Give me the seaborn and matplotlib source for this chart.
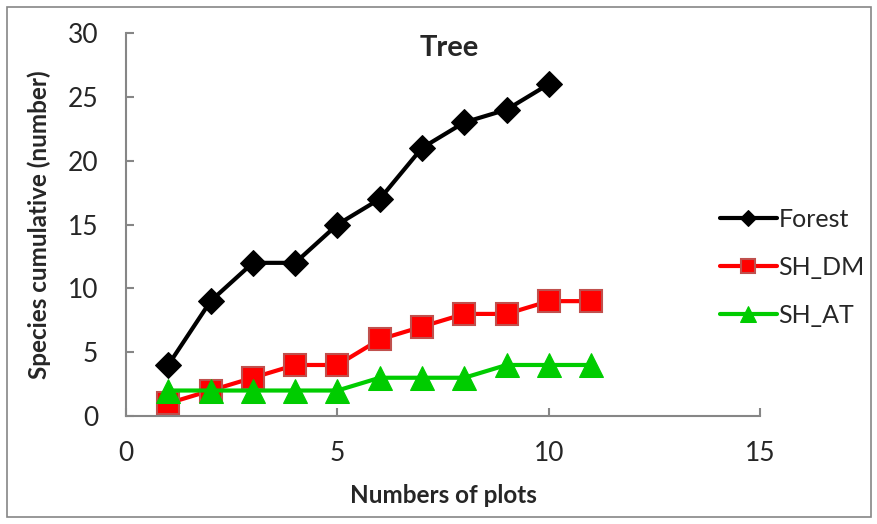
import matplotlib
matplotlib.use("Agg")
import matplotlib.pyplot as plt
import seaborn as sns
import pandas as pd
from matplotlib.patches import Rectangle

forest_x = [1, 2, 3, 4, 5, 6, 7, 8, 9, 10]
forest_y = [4, 9, 12, 12, 15, 17, 21, 23, 24, 26]
shdm_x = [1, 2, 3, 4, 5, 6, 7, 8, 9, 10, 11]
shdm_y = [1, 2, 3, 4, 4, 6, 7, 8, 8, 9, 9]
shat_x = [1, 2, 3, 4, 5, 6, 7, 8, 9, 10, 11]
shat_y = [2, 2, 2, 2, 2, 3, 3, 3, 4, 4, 4]
series_names = ["Forest", "SH_DM", "SH_AT"]

sns.set_style("white")
plt.rcParams['font.family'] = ['Lato', 'DejaVu Sans']

fig = plt.figure(figsize=(8.78, 5.24), dpi=100)
ax = fig.add_axes([0.1435, 0.206, 0.7225, 0.731])

styles = [
    dict(color="black", marker="D", markersize=13, markerfacecolor="black", markeredgecolor="black"),
    dict(color="#ff0000", marker="s", markersize=16, markerfacecolor="#ff0000", markeredgecolor="#c0504d", markeredgewidth=1.5),
    dict(color="#00cc00", marker="^", markersize=17, markerfacecolor="#00cc00", markeredgecolor="#00cc00"),
]
data = [(forest_x, forest_y), (shdm_x, shdm_y), (shat_x, shat_y)]
for (xs, ys), name, st in zip(data, series_names, styles):
    df = pd.DataFrame({"x": xs, "y": ys})
    sns.lineplot(data=df, x="x", y="y", ax=ax, label=name, linewidth=3, **st)

ax.set_xlim(0, 15)
ax.set_ylim(0, 30)
ax.set_xticks([0, 5, 10, 15])
ax.set_yticks(range(0, 31, 5))
for s in ["top", "right"]:
    ax.spines[s].set_visible(False)
for s in ["left", "bottom"]:
    ax.spines[s].set_color("#868686")
    ax.spines[s].set_linewidth(1.5)
ax.tick_params(axis="both", direction="in", length=6, width=1.5, color="#868686",
               labelsize=19, left=True, bottom=True)
ax.tick_params(axis="y", pad=20)
ax.tick_params(axis="x", pad=18)
ax.set_xlabel("Numbers of plots", fontsize=17.5, fontweight="bold", labelpad=13)
ax.set_ylabel("Species cumulative (number)", fontsize=17.5, fontweight="bold", labelpad=12)
ax.text(0.51, 0.96, "Tree", transform=ax.transAxes, ha="center", va="center",
        fontsize=21, fontweight="bold")

ax.legend(loc="center left", bbox_to_anchor=(0.92, 0.389), frameon=False,
          fontsize=18, handlelength=2.3, handletextpad=0.05, labelspacing=1.0,
          markerscale=0.65, borderaxespad=0)

fig.patches.append(Rectangle((0.008, 0.013), 0.984, 0.974, transform=fig.transFigure,
                             fill=False, edgecolor="#868686", linewidth=1.2))
fig.savefig("out.png", dpi=100)
